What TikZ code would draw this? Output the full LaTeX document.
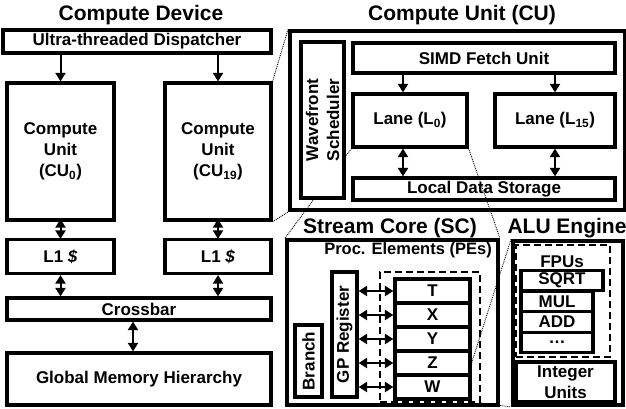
\documentclass[tikz,border=0pt]{standalone}
\usepackage{fontspec}
\setmainfont{Liberation Sans}
\usetikzlibrary{arrows.meta,backgrounds}

\begin{document}
\begin{tikzpicture}[x=1pt,y=-1pt,
  font=\fontsize{17}{21}\selectfont\bfseries,
  box/.style={draw,shape=rectangle,line width=3.2pt,fill=white,inner sep=0pt,align=center},
  frame/.style={draw,shape=rectangle,line width=3.8pt,inner sep=0pt},
  group/.style={draw,shape=rectangle,dashed,dash pattern=on 7pt off 4pt,line width=2pt,inner sep=0pt},
  title/.style={font=\fontsize{21}{24}\selectfont\bfseries},
  feed/.style={line width=2pt,-{Triangle[length=8.5pt,width=10pt]}},
  link/.style={line width=2pt,{Triangle[length=8.5pt,width=10pt]}-{Triangle[length=8.5pt,width=10pt]}},
  zoomline/.style={densely dotted,line width=0.9pt}]
  \useasboundingbox (0,0) rectangle (626,409);

  \node[title] (cdtitle) at (141,15) {Compute Device};
  \node[box,minimum width=268pt,minimum height=23pt] (dispatcher) at (137,41.5) {Ultra-threaded Dispatcher};
  \node[box,minimum width=107pt,minimum height=137pt] (cuzero) at (60.5,151.5) {Compute\\Unit\\(CU\textsubscript{0})};
  \node[box,minimum width=106pt,minimum height=137pt] (cunineteen) at (218,151.5) {Compute\\Unit\\(CU\textsubscript{19})};
  \node[box,minimum width=107pt,minimum height=34pt] (lonezero) at (60.5,256.5) {L1 \textit{\$}};
  \node[box,minimum width=106pt,minimum height=34pt] (lonenineteen) at (218,256.5) {L1 \textit{\$}};
  \node[box,minimum width=264pt,minimum height=22pt] (crossbar) at (139,309) {Crossbar};
  \node[box,minimum width=264pt,minimum height=52pt] (globalmem) at (139,379) {Global Memory Hierarchy};
  \draw[feed] (dispatcher.south -| cuzero.north) -- (cuzero.north);
  \draw[feed] (dispatcher.south -| cunineteen.north) -- (cunineteen.north);
  \draw[link,shorten <=-2.5pt,shorten >=-1pt] (cuzero) -- (lonezero);
  \draw[link,shorten <=-2.5pt,shorten >=-1pt] (cunineteen) -- (lonenineteen);
  \draw[link] (lonezero) -- (crossbar.north -| lonezero.south);
  \draw[link] (lonenineteen) -- (crossbar.north -| lonenineteen.south);
  \draw[link] (crossbar.south -| 133,0) -- (globalmem.north -| 133,0);

  \node[title] (cutitle) at (462,15) {Compute Unit (CU)};
  \node[frame,minimum width=335pt,minimum height=179pt] (cubox) at (457.5,120.5) {};
  \node[box,rotate=90,minimum width=156pt,minimum height=43pt] (wavefront) at (322.5,120) {Wavefront\\Scheduler};
  \node[box,minimum width=262pt,minimum height=30pt] (simd) at (484,58) {SIMD Fetch Unit};
  \node[box,minimum width=114pt,minimum height=53pt] (lanezero) at (410,120.5) {Lane (L\textsubscript{0})};
  \node[box,minimum width=120pt,minimum height=53pt] (lanefifteen) at (555,120.5) {Lane (L\textsubscript{15})};
  \node[box,minimum width=262pt,minimum height=22pt] (lds) at (484,189) {Local Data Storage};
  \draw[feed] (simd.south -| 403,0) -- (lanezero.north -| 403,0);
  \draw[feed] (simd.south -| lanefifteen.north) -- (lanefifteen.north);
  \draw[link] (lanezero.south -| 403,0) -- (lds.north -| 403,0);
  \draw[link] (lanefifteen) -- (lds.north -| lanefifteen.south);

  \node[title] (sctitle) at (390,228) {Stream Core (SC)};
  \node[frame,minimum width=211pt,minimum height=165pt] (scbox) at (392.5,322.5) {};
  \node[font=\fontsize{16.5}{20}\selectfont\bfseries] (pelabel) at (408,250) {Proc. Elements (PEs)};
  \node[group,minimum width=100pt,minimum height=130pt] (pegroup) at (430,337) {};
  \node[box,rotate=90,minimum width=125pt,minimum height=25pt] (gpreg) at (344.5,334.5) {GP Register};
  \node[box,rotate=90,minimum width=72pt,minimum height=27pt] (branch) at (308.5,361) {Branch};
  \node[box,minimum width=75pt,minimum height=24pt] (pet) at (432.5,291) {T};
  \node[box,minimum width=75pt,minimum height=24pt] (pex) at (432.5,315) {X};
  \node[box,minimum width=75pt,minimum height=24pt] (pey) at (432.5,339) {Y};
  \node[box,minimum width=75pt,minimum height=24pt] (pez) at (432.5,363) {Z};
  \node[box,minimum width=75pt,minimum height=24pt] (pew) at (432.5,387) {W};
  \draw[link] (gpreg.south |- pet.west) -- (pet.west);
  \draw[link] (gpreg.south |- pex.west) -- (pex.west);
  \draw[link] (gpreg.south |- pey.west) -- (pey.west);
  \draw[link] (gpreg.south |- pez.west) -- (pez.west);
  \draw[link] (gpreg.south |- pew.west) -- (pew.west);

  \node[title] (alutitle) at (567,228) {ALU Engine};
  \node[frame,minimum width=110pt,minimum height=164pt] (alubox) at (568,323) {};
  \node[group,minimum width=94pt,minimum height=112pt] (fpugroup) at (563,301) {};
  \node (fpulabel) at (562,262) {FPUs};
  \node[box,minimum width=82pt,minimum height=20pt] (sqrt) at (562,280.5) {SQRT};
  \node[box,minimum width=72pt,minimum height=20.5pt] (mul) at (557,301.5) {MUL};
  \node[box,minimum width=72pt,minimum height=20.5pt] (add) at (557,322) {ADD};
  \node[box,minimum width=72pt,minimum height=20.5pt] (more) at (557,342.5) {\dots};
  \node[box,minimum width=99pt,minimum height=40pt] (intunits) at (565.5,382) {Integer\\Units};

  \begin{scope}[on background layer]
    \draw[zoomline] (cunineteen.north east) -- (cubox.north west);
    \draw[zoomline] (cunineteen.south east) -- (cubox.south west);
    \draw[zoomline] (lanezero.south west) -- (scbox.north west);
    \draw[zoomline] (pez.east) -- (alubox.north west);
    \draw[zoomline] (pegroup.south east) -- (alubox.south west);
  \end{scope}
  \draw[zoomline] (lanezero.south east) -- (scbox.north east);
\end{tikzpicture}
\end{document}
